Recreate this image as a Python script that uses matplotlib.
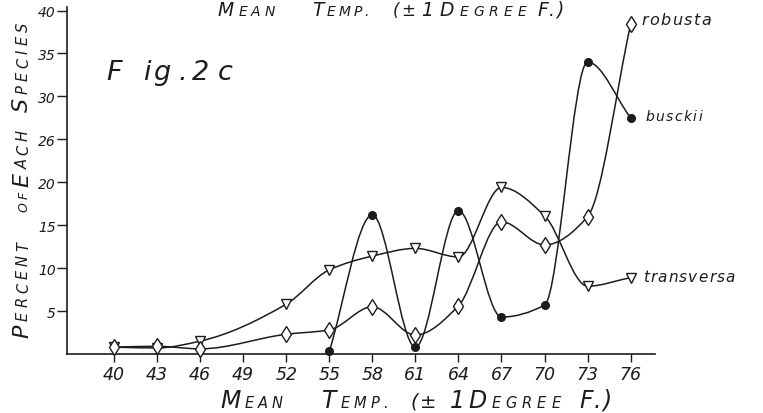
import matplotlib
matplotlib.use("Agg")
import matplotlib.pyplot as plt
import numpy as np
from matplotlib.path import Path
from matplotlib.patches import PathPatch

# ---------------- data ----------------
temps = [40, 43, 46, 52, 55, 58, 61, 64, 67, 70, 73, 76]
robusta = [0.8, 0.9, 0.6, 2.3, 2.8, 5.5, 2.2, 5.6, 15.4, 12.7, 16.0, 38.4]
transversa = [0.8, 0.7, 1.5, 5.8, 9.8, 11.4, 12.3, 11.3, 19.4, 16.1, 7.9, 8.9]
busckii_temps = [55, 58, 61, 64, 67, 70, 73, 76]
busckii = [0.3, 16.2, 0.8, 16.7, 4.3, 5.7, 34.0, 27.5]
xtick_values = [40, 43, 46, 49, 52, 55, 58, 61, 64, 67, 70, 73, 76]
xtick_labels = [str(v) for v in xtick_values]
ytick_values = [5, 10, 15, 20, 25, 30, 35, 40]
ytick_labels = ["5", "10", "15", "20", "26", "30", "35", "40"]

INK = "#1c1c1c"
W, H = 763, 414
fig = plt.figure(figsize=(W / 100, H / 100), dpi=100)
fig.patch.set_facecolor("white")
ax = fig.add_axes([67 / W, 1 - 355 / H, 1 - 67 / W, 355 / H])
ax.set_facecolor("none")
ax.set_xlim(36.727, 85.22)
ax.set_ylim(0, 41.34)

for s in ("top", "right"):
    ax.spines[s].set_visible(False)
ax.spines["left"].set_bounds(0, 40.4)
ax.spines["bottom"].set_bounds(36.727, 77.7)
for s in ("left", "bottom"):
    ax.spines[s].set_linewidth(1.2)
    ax.spines[s].set_color(INK)

ax.set_xticks(xtick_values)
ax.set_xticklabels(xtick_labels)
ax.set_yticks(ytick_values)
ax.set_yticklabels(ytick_labels)
ax.tick_params(axis="x", direction="out", length=6, width=1.0, pad=2,
               labelsize=12.5, colors=INK)
ax.tick_params(axis="y", direction="out", length=7, width=1.0, pad=1,
               labelsize=10, colors=INK)
for lbl in ax.get_xticklabels() + ax.get_yticklabels():
    lbl.set_fontstyle("italic")


def smooth_path(x, y):
    """Monotone cubic Hermite curve through the points, as Bezier path."""
    x = np.asarray(x, float)
    y = np.asarray(y, float)
    n = len(x)
    h = np.diff(x)
    d = np.diff(y) / h
    m = np.zeros(n)
    m[0], m[-1] = d[0], d[-1]
    for i in range(1, n - 1):
        if d[i - 1] * d[i] <= 0:
            m[i] = 0.0
        else:
            w1 = 2 * h[i] + h[i - 1]
            w2 = h[i] + 2 * h[i - 1]
            m[i] = (w1 + w2) / (w1 / d[i - 1] + w2 / d[i])
    verts = [(x[0], y[0])]
    codes = [Path.MOVETO]
    for i in range(n - 1):
        hh = h[i]
        verts += [(x[i] + hh / 3, y[i] + m[i] * hh / 3),
                  (x[i + 1] - hh / 3, y[i + 1] - m[i + 1] * hh / 3),
                  (x[i + 1], y[i + 1])]
        codes += [Path.CURVE4] * 3
    return Path(verts, codes)


series = [
    (temps, transversa, "v", "white", 6.5),
    (temps, robusta, "d", "white", 8.5),
    (busckii_temps, busckii, "o", INK, 5.5),
]
for xs, vals, mk, fc, ms in series:
    ax.add_patch(PathPatch(smooth_path(xs, vals), fill=False, lw=1.1,
                           ec=INK, zorder=2, capstyle="round"))
    ax.plot(xs, vals, ls="none", marker=mk, mfc=fc, mec=INK, ms=ms,
            mew=1.0, zorder=3, clip_on=False)

# ---------------- hand-lettered texts ----------------
renderer = fig.canvas.get_renderer()
_wcache = {}


def cw(ch, size):
    if ch == " ":
        return size * 1.389 * 0.35
    key = (ch, size)
    if key not in _wcache:
        t = fig.text(0, 0, ch, fontsize=size, fontstyle="italic")
        _wcache[key] = t.get_window_extent(renderer).width
        t.remove()
    return _wcache[key]


def letter(x, y, runs, tracking=2.0, rotation=0):
    """Draw runs [(text, size), ...] char by char starting at pixel (x, y)
    (image coords, y from top), baseline anchored."""
    for s, size in runs:
        for ch in s:
            if ch != " ":
                fig.text(x / W, 1 - y / H, ch, fontsize=size,
                         fontstyle="italic", color=INK, ha="left",
                         va="baseline", rotation=rotation,
                         rotation_mode="anchor")
            adv = cw(ch, size) + tracking
            if rotation == 0:
                x += adv
            else:
                y -= adv


BIG, SM = 17, 10.5
# bottom axis title
letter(220, 408, [("M", BIG), ("EAN", SM)], tracking=4)
letter(322, 408, [("T", BIG), ("EMP.", SM)], tracking=4)
letter(410, 408, [("(±", 14)], tracking=2)
letter(450, 408, [("1", BIG)])
letter(468, 408, [("D", BIG), ("EGREE", SM)], tracking=5)
letter(579, 408, [("F.)", BIG)], tracking=1)

# top title (sits right at the upper edge)
TB, TS = 13.5, 10
letter(218, 16, [("M", TB), ("EAN", TS)], tracking=4)
letter(312, 16, [("T", TB), ("EMP.", TS)], tracking=3)
letter(393, 16, [("(±", 12)], tracking=2)
letter(421, 16, [("1", TB)])
letter(440, 16, [("D", TB), ("EGREE", TS)], tracking=5)
letter(537, 16, [("F.)", TB)], tracking=1)

# y axis title (rotated)
YB, YS = 16, 10.5
letter(28, 338, [("P", YB), ("ERCENT", YS)], tracking=4, rotation=90)
letter(28, 212, [("OF", 9)], tracking=3, rotation=90)
letter(28, 187, [("E", YB), ("ACH", YS)], tracking=4, rotation=90)
letter(28, 112, [("S", YB), ("PECIES", YS)], tracking=4, rotation=90)

# figure tag
for ch, xp in zip("Fig.2c", [106, 143, 153, 178, 192, 218]):
    fig.text(xp / W, 1 - 80 / H, ch, fontsize=19.5, fontstyle="italic",
             color=INK, ha="left", va="baseline")

# species labels
letter(641, 25, [("robusta", 11.5)], tracking=1.5)
letter(645, 121, [("busckii", 10)], tracking=1.5)
letter(643, 282, [("transversa", 11)], tracking=1.2)

fig.savefig("out.png", dpi=100, facecolor="white")
